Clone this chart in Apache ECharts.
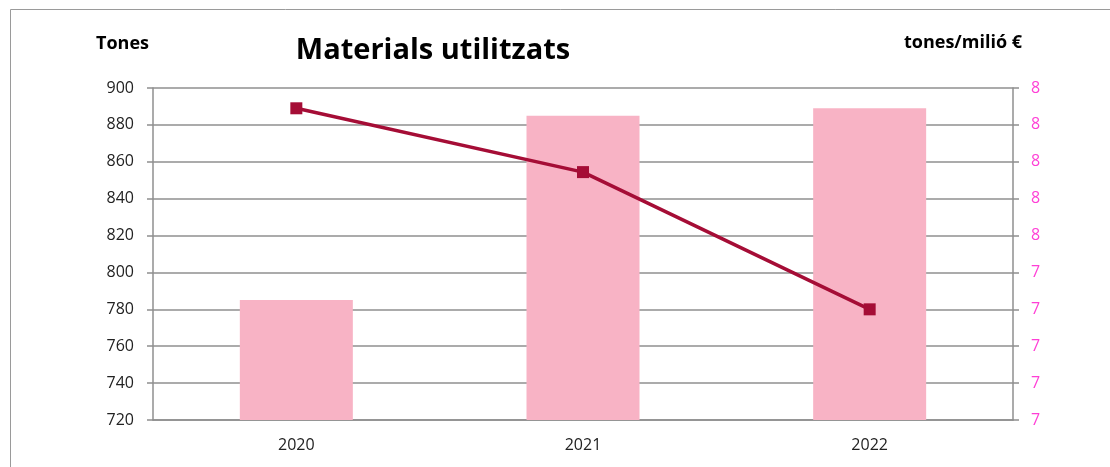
<!DOCTYPE html>
<html lang="ca">
  <head>
    <meta charset="UTF-8" />
    <title>Materials utilitzats</title>
    <script src="https://cdn.jsdelivr.net/npm/echarts@6/dist/echarts.min.js"></script>
    <style>
      html, body { margin: 0; padding: 0; background: #fff; }
      .echarts { width: 1110px; height: 467px; }
    </style>
  </head>
  <body>
    <div class="echarts"></div>
    <script>
      // dades
      const years = ['2020', '2021', '2022']
      const tones = [785, 885, 889]               // barres, eix esquerre
      const tonesPerMilio = [7.845, 7.672, 7.30]  // línia, eix dret

      const font = '"Open Sans", "DejaVu Sans", sans-serif'
      const gridColor = '#8f8f8f'

      const myCharts = echarts.init(document.querySelector('.echarts'))
      const option = {
        animation: false,
        textStyle: { fontFamily: font },
        title: {
          text: 'Materials utilitzats',
          left: 428,
          top: 31,
          textAlign: 'center',
          textStyle: { fontSize: 29, fontWeight: 'bold', color: '#000', fontFamily: font }
        },
        graphic: [
          // marc exterior
          {
            type: 'rect',
            shape: { x: 10.5, y: 9.5, width: 1120, height: 480 },
            style: { fill: 'none', stroke: '#9a9a9a', lineWidth: 1 }
          },
          {
            type: 'text', left: 96, top: 35,
            style: { text: 'Tones', font: 'bold 18px ' + font, fill: '#000' }
          },
          {
            type: 'text', left: 904, top: 34,
            style: { text: 'tones/milió €', font: 'bold 18px ' + font, fill: '#000' }
          }
        ],
        grid: { left: 153, right: 97, top: 88, bottom: 47 },
        xAxis: {
          type: 'category',
          data: years,
          axisLine: { lineStyle: { color: gridColor, width: 1.5 } },
          axisTick: { show: false },
          axisLabel: { color: '#222', fontSize: 16, margin: 17 }
        },
        yAxis: [
          {
            type: 'value',
            min: 720,
            max: 900,
            interval: 20,
            axisLine: { show: true, lineStyle: { color: gridColor, width: 1.5 } },
            axisTick: { show: true, length: 6, lineStyle: { color: gridColor, width: 1.5 } },
            axisLabel: { color: '#222', fontSize: 16, margin: 19 },
            splitLine: { lineStyle: { color: gridColor, width: 1.5 } }
          },
          {
            type: 'value',
            min: 7.0,
            max: 7.9,
            interval: 0.1,
            position: 'right',
            axisLine: { show: true, lineStyle: { color: gridColor, width: 1.5 } },
            axisTick: { show: true, length: 6, lineStyle: { color: gridColor, width: 1.5 } },
            axisLabel: {
              color: '#ff3fd6',
              fontSize: 16,
              margin: 18,
              formatter: v => String(Math.round(Number(v.toFixed(1))))
            },
            splitLine: { show: false }
          }
        ],
        series: [
          {
            name: 'Tones',
            type: 'bar',
            data: tones,
            barWidth: 113,
            itemStyle: { color: '#f8b3c5' }
          },
          {
            name: 'tones/milió €',
            type: 'line',
            yAxisIndex: 1,
            data: tonesPerMilio,
            symbol: 'rect',
            symbolSize: 12,
            lineStyle: { color: '#a50d36', width: 3.5 },
            itemStyle: { color: '#a50d36' }
          }
        ]
      }
      myCharts.setOption(option)
    </script>
  </body>
</html>
